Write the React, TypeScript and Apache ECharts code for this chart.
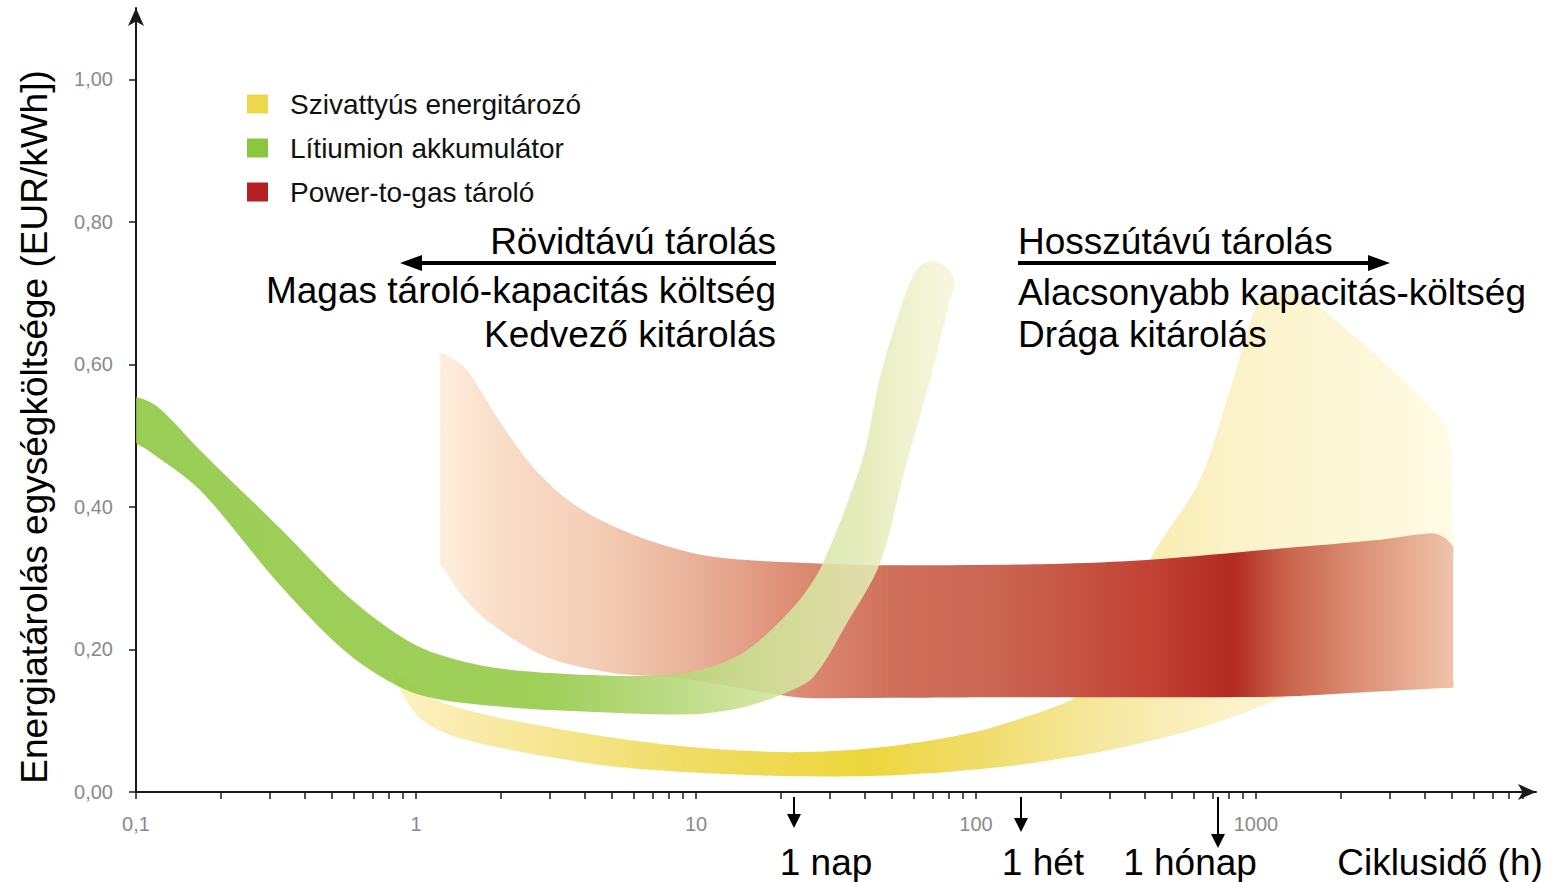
import React, { useEffect, useRef } from "react";
import * as echarts from "echarts";

// ---------- data ----------
const categories = ["Szivattyús energitározó", "Lítiumion akkumulátor", "Power-to-gas tároló"];

const xLabelValues = [0.1, 1, 10, 100, 1000];
const xTickValues = [
  0.1, 0.2, 0.3, 0.4, 0.5, 0.6, 0.7, 0.8, 0.9,
  1, 2, 3, 4, 5, 6, 7, 8, 9,
  10, 20, 30, 40, 50, 60, 70, 80, 90,
  100, 200, 300, 400, 500, 600, 700, 800, 900,
  1000, 2000, 3000, 4000, 5000, 6000, 7000, 8000, 9000,
];
const yTickValues = [0, 0.2, 0.4, 0.6, 0.8, 1.0];

// band outlines: [cycle time (h), cost (EUR/kWh)]
const pumpedHydro: number[][] = [
  [0.841, 0.168], [1.03, 0.14], [1.32, 0.122], [2.0, 0.104], [4.54, 0.079], [10.3, 0.062],
  [23.5, 0.056], [53.5, 0.066], [122, 0.094], [277, 0.157], [418, 0.325], [631, 0.438],
  [828, 0.578], [1033, 0.69], [1322, 0.702], [1795, 0.672], [4656, 0.518], [5012, 0.438],
  [5012, 0.3], [4930, 0.27], [2773, 0.2], [1249, 0.133], [631, 0.09], [277, 0.056],
  [122, 0.035], [53.5, 0.024], [23.5, 0.022], [10.3, 0.027], [4.54, 0.038], [2.0, 0.062],
  [1.32, 0.08], [1.03, 0.104], [0.877, 0.143],
];

const lithiumIon: number[][] = [
  [0.1, 0.554], [0.12, 0.54], [0.169, 0.48], [0.327, 0.37], [0.581, 0.272], [1, 0.206], [1.69, 0.178],
  [3.0, 0.167], [6.85, 0.163], [10.3, 0.171], [15.2, 0.199], [22.9, 0.265], [28.4, 0.321],
  [39.5, 0.47], [45.4, 0.582], [53.5, 0.676], [60.6, 0.73], [67.4, 0.744], [77.5, 0.738],
  [84.1, 0.716], [80.7, 0.69], [68.5, 0.578], [55.7, 0.452], [45.4, 0.321], [34.6, 0.237],
  [26.2, 0.161], [20, 0.136], [14.4, 0.118], [9.5, 0.109], [4.54, 0.112], [2.0, 0.12],
  [1, 0.138], [0.581, 0.192], [0.327, 0.29], [0.169, 0.424], [0.11, 0.48], [0.1, 0.49],
  [0.1, 0.5], [0.1, 0.54],
];

const powerToGas: number[][] = [
  [1.22, 0.616], [1.3, 0.612], [1.52, 0.592], [1.95, 0.525], [2.55, 0.461], [3.35, 0.415],
  [4.43, 0.384], [6.68, 0.354], [11.5, 0.33], [26.2, 0.321], [53.5, 0.318], [184, 0.32],
  [418, 0.326], [1250, 0.342], [2773, 0.354], [4285, 0.363], [4700, 0.357], [5055, 0.344],
  [5055, 0.33], [5055, 0.16], [5055, 0.147], [4700, 0.146], [2167, 0.139], [1249, 0.134],
  [631, 0.133], [122, 0.133], [35.5, 0.132], [22.9, 0.133], [8.77, 0.16], [5.05, 0.167],
  [2.94, 0.189], [1.84, 0.237], [1.47, 0.274], [1.26, 0.312], [1.22, 0.321], [1.22, 0.335],
  [1.22, 0.6],
];

// ---------- styles ----------
const FONT = "'Liberation Sans', Arial, sans-serif";
const legendColors = ["#ecd84a", "#8cc63f", "#b52025"];

const yellowStops: [number, string][] = [
  [0.84, "#fcf1c4"], [2, "#f8e9a0"], [10, "#f0dc62"], [40, "#ecd63c"], [100, "#f0dc68"],
  [300, "#f6e9a4"], [800, "#fbf2c8"], [5012, "#fffbe4"],
];
const greenStops: [number, string][] = [
  [0.1, "#8cc63f"], [3, "#92c943"], [8, "#b2d672"], [15, "#c8e090"], [25, "#d6e6a2"],
  [40, "#e2eab4"], [60, "#eff1cb"], [85, "#f8f6dc"],
];
const redStops: [number, string][] = [
  [1.22, "#fdefdc"], [2, "#f9ddc8"], [4.5, "#f4cdb5"], [10, "#e9b098"], [23, "#dd8c74"],
  [53, "#cf6e5a"], [122, "#ca6552"], [418, "#c24234"], [828, "#b22a22"], [1250, "#c9604a"],
  [2170, "#d98a70"], [5055, "#f0c4aa"],
];

function bandRenderer(points: number[][], stops: [number, string][], opacity: number) {
  return (params: any, api: any) => {
    if (params.dataIndex !== 0) return null;
    const pts = points.map((p) => api.coord(p));
    const x0 = api.coord([stops[0][0], 0.5])[0];
    const x1 = api.coord([stops[stops.length - 1][0], 0.5])[0];
    const grad = new echarts.graphic.LinearGradient(
      x0, 0, x1, 0,
      stops.map(([h, c]) => ({
        offset: Math.min(1, Math.max(0, (api.coord([h, 0.5])[0] - x0) / (x1 - x0))),
        color: c,
      })),
      true
    );
    return {
      type: "polygon",
      shape: { points: pts, smooth: 0.3 },
      style: { fill: grad, opacity },
    };
  };
}

function txt(text: string, x: number, y: number, align: string, size = 37) {
  return {
    type: "text",
    x,
    y,
    z: 100,
    style: { text, fontSize: size, fontFamily: FONT, fill: "#000", align, verticalAlign: "middle" },
  };
}

function downArrow(x: number, y0: number, y1: number) {
  return [
    { type: "line", z: 100, shape: { x1: x, y1: y0, x2: x, y2: y1 - 12 }, style: { stroke: "#000", lineWidth: 2 } },
    { type: "polygon", z: 100, shape: { points: [[x - 7, y1 - 14], [x + 7, y1 - 14], [x, y1]] }, style: { fill: "#000" } },
  ];
}

export default function App() {
  const ref = useRef<HTMLDivElement>(null);
  useEffect(() => {
    if (!ref.current) return;
    const chart = echarts.init(ref.current, undefined, { renderer: "svg" });
    const option: any = {
      animation: false,
      backgroundColor: "#ffffff",
      grid: { left: 136, right: 27, top: 8, bottom: 90 },
      legend: {
        orient: "vertical",
        left: 242,
        top: 85,
        itemWidth: 21,
        itemHeight: 19,
        itemGap: 16,
        icon: "rect",
        selectedMode: false,
        data: categories,
        textStyle: { fontSize: 28, fontFamily: FONT, color: "#111", padding: [0, 0, 0, 17] },
      },
      xAxis: {
        type: "log",
        logBase: 10,
        min: 0.1,
        max: 10000,
        axisLine: {
          show: true,
          symbol: ["none", "arrow"],
          symbolSize: [12, 18],
          lineStyle: { color: "#1a1a1a", width: 2 },
        },
        axisTick: { show: true, length: 7, customValues: xTickValues, lineStyle: { color: "#1a1a1a", width: 1.5 } },
        axisLabel: {
          customValues: xLabelValues,
          formatter: (v: number) => String(v).replace(".", ","),
          color: "#8a8a8a",
          fontSize: 20,
          fontFamily: FONT,
          margin: 22,
        },
        splitLine: { show: false },
        minorTick: { show: false },
      },
      yAxis: {
        type: "value",
        min: 0,
        max: 1.1,
        axisLine: {
          show: true,
          symbol: ["none", "arrow"],
          symbolSize: [12, 18],
          lineStyle: { color: "#1a1a1a", width: 2 },
        },
        axisTick: { show: true, length: 7, customValues: yTickValues, lineStyle: { color: "#1a1a1a", width: 1.5 } },
        axisLabel: {
          customValues: yTickValues,
          formatter: (v: number) => v.toFixed(2).replace(".", ","),
          color: "#8a8a8a",
          fontSize: 20,
          fontFamily: FONT,
          margin: 23,
        },
        splitLine: { show: false },
      },
      series: [
        {
          name: categories[0],
          type: "custom",
          clip: true,
          itemStyle: { color: legendColors[0] },
          data: pumpedHydro,
          encode: { x: 0, y: 1 },
          renderItem: bandRenderer(pumpedHydro, yellowStops, 1),
          z: 1,
        },
        {
          name: categories[2],
          type: "custom",
          clip: true,
          itemStyle: { color: legendColors[2] },
          data: powerToGas,
          encode: { x: 0, y: 1 },
          renderItem: bandRenderer(powerToGas, redStops, 1),
          z: 2,
        },
        {
          name: categories[1],
          type: "custom",
          clip: true,
          itemStyle: { color: legendColors[1] },
          data: lithiumIon,
          encode: { x: 0, y: 1 },
          renderItem: bandRenderer(lithiumIon, greenStops, 0.88),
          z: 3,
        },
      ],
      graphic: [
        {
          type: "text",
          x: 34,
          y: 427,
          z: 100,
          rotation: Math.PI / 2,
          style: {
            text: "Energiatárolás egységköltsége (EUR/kWh])",
            fontSize: 37,
            fontFamily: FONT,
            fill: "#000",
            align: "center",
            verticalAlign: "middle",
          },
        },
        txt("Rövidtávú tárolás", 776, 241, "right"),
        txt("Magas tároló-kapacitás költség", 776, 290, "right"),
        txt("Kedvező kitárolás", 776, 334, "right"),
        txt("Hosszútávú tárolás", 1018, 241, "left"),
        txt("Alacsonyabb kapacitás-költség", 1018, 292, "left"),
        txt("Drága kitárolás", 1018, 334, "left"),
        { type: "line", z: 100, shape: { x1: 418, y1: 263, x2: 776, y2: 263 }, style: { stroke: "#000", lineWidth: 4 } },
        { type: "polygon", z: 100, shape: { points: [[400, 263], [422, 255], [422, 271]] }, style: { fill: "#000" } },
        { type: "line", z: 100, shape: { x1: 1018, y1: 263, x2: 1372, y2: 263 }, style: { stroke: "#000", lineWidth: 4 } },
        { type: "polygon", z: 100, shape: { points: [[1390, 263], [1368, 255], [1368, 271]] }, style: { fill: "#000" } },
        ...downArrow(794, 797, 828),
        ...downArrow(1021, 797, 832),
        ...downArrow(1218, 797, 848),
        txt("1 nap", 826, 862, "center"),
        txt("1 hét", 1043, 862, "center"),
        txt("1 hónap", 1190, 862, "center"),
        txt("Ciklusidő (h)", 1440, 862, "center"),
      ],
    };
    chart.setOption(option);
    return () => chart.dispose();
  }, []);
  return <div ref={ref} style={{ position: "absolute", left: 0, top: 0, width: 1563, height: 882 }} />;
}
